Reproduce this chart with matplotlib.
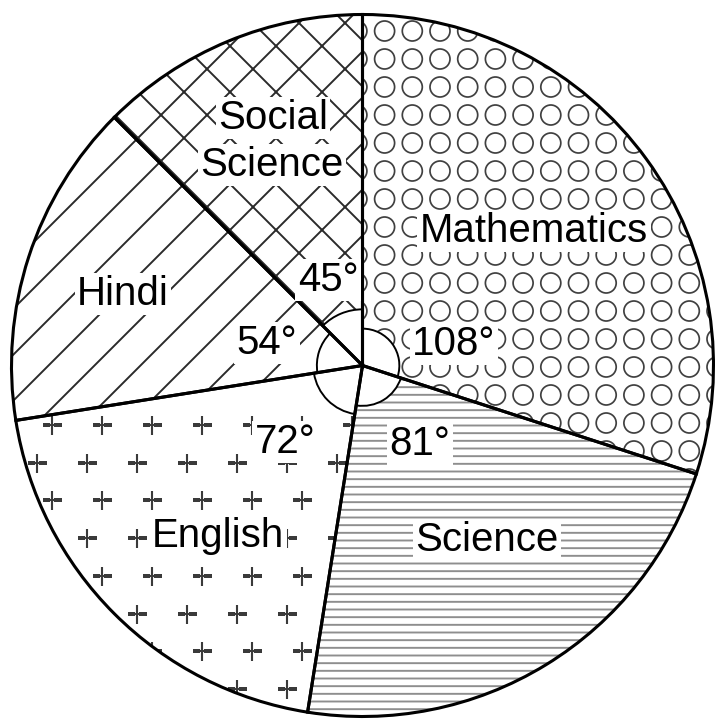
import numpy as np
import matplotlib
matplotlib.use("Agg")
import matplotlib.pyplot as plt
from matplotlib.patches import Wedge

# ---------------- data ----------------
subjects = ["Mathematics", "Science", "English", "Hindi", "Social Science"]
degrees = [108, 81, 72, 54, 45]
angle_labels = ["108°", "81°", "72°", "54°", "45°"]

# ---------------- layout / style ----------------
DPI = 138
W, H = 715, 725
CX, CY, R = 362.5, 365.5, 351.0   # pie centre and radius in pixels


def d(px, py):
    """pixel (from top-left) -> data coords (pie radius = 1)"""
    return (px - CX) / R, (CY - py) / R


plt.rcParams["font.family"] = ["Liberation Sans", "DejaVu Sans"]
plt.rcParams["hatch.linewidth"] = 1.0

fig = plt.figure(figsize=(W / DPI, H / DPI), dpi=DPI)
ax = fig.add_axes([0, 0, 1, 1])
ax.axis("off")

hatches = [None, "---", None, "/", "x"]
hatch_colors = ["#333333", "#8e8e8e", "#333333", "#2a2a2a", "#2a2a2a"]

# hatched fills
wedges, _ = ax.pie(degrees, startangle=90, counterclock=False, radius=1,
                   wedgeprops=dict(facecolor="white", linewidth=0))
for w, h, c in zip(wedges, hatches, hatch_colors):
    if h:
        w.set_hatch(h)
        w.set_edgecolor(c)
        w.set_linewidth(0)

# circle texture for Mathematics
gx = np.arange(-CX, W - CX + 30, 27.7) / R + (387 - CX) % 27.7 / R
gy = np.arange(-CY, H - CY + 30, 28.0) / R
GX, GY = np.meshgrid(gx, gy)
sc = ax.scatter(GX.ravel(), GY.ravel(), s=(20 * 72 / DPI) ** 2, marker="o",
                facecolors="none", edgecolors="#404040", linewidths=0.9, zorder=2)
sc.set_clip_path(wedges[0])

# plus texture for English (staggered rows)
rows_y = np.arange(425, 760, 37.7)
pts = []
for i, yy in enumerate(rows_y):
    x0 = 101.7 if i % 2 == 0 else 86.7
    for xx in np.arange(x0 - 100, 420, 50.0):
        pts.append(d(xx, yy))
pts = np.array(pts)
sp = ax.scatter(pts[:, 0], pts[:, 1], s=(19 * 72 / DPI) ** 2, marker="+",
                color="#3a3a3a", linewidths=1.1, zorder=2)
sp.set_clip_path(wedges[2])

# small angle arcs at the centre
arc_r = [0.105, 0.115, 0.14, 0.13, 0.16]
start = 90.0
for deg, rr in zip(degrees, arc_r):
    end = start - deg
    ax.add_patch(Wedge((0, 0), rr, end, start, facecolor="white",
                       edgecolor="black", linewidth=1.0, zorder=3))
    start = end

# outlines
ax.pie(degrees, startangle=90, counterclock=False, radius=1,
       wedgeprops=dict(fill=False, edgecolor="black", linewidth=1.6, zorder=4))
ax.set_xlim(-CX / R, (W - CX) / R)
ax.set_ylim(-(H - CY) / R, CY / R)
ax.set_aspect("auto")

FS = 21
box = dict(boxstyle="square,pad=0.06", facecolor="white", edgecolor="none")
name_pos = {
    "Mathematics": (534, 242),
    "Science": (487, 551),
    "English": (218, 547),
    "Hindi": (123, 305),
}
for name, (px, py) in name_pos.items():
    x, y = d(px, py)
    ax.text(x, y, name, ha="center", va="baseline", fontsize=FS, bbox=box, zorder=5)
for word, (px, py) in zip(["Social", "Science"], [(273, 129), (272, 176)]):
    x, y = d(px, py)
    ax.text(x, y, word, ha="center", va="baseline", fontsize=FS, bbox=box, zorder=5)

ang_pos = [(454, 355), (420, 455), (285, 453), (267, 354), (328, 291)]
for lab, (px, py) in zip(angle_labels, ang_pos):
    x, y = d(px, py)
    ax.text(x, y, lab, ha="center", va="baseline", fontsize=FS, bbox=box, zorder=5)

fig.savefig("out.png", dpi=DPI, facecolor="white")
